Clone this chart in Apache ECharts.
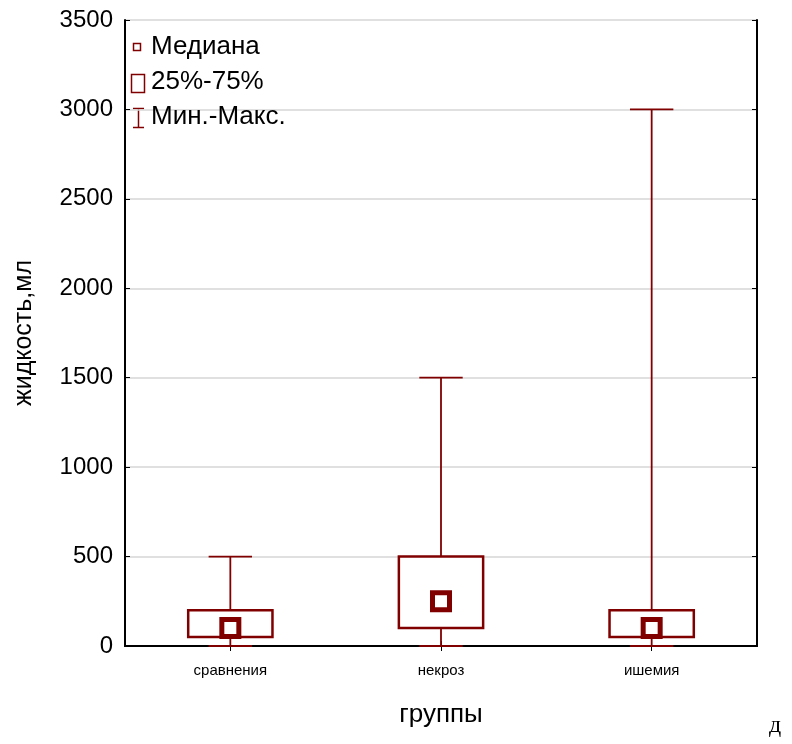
<!DOCTYPE html>
<html>
<head>
<meta charset="utf-8">
<script src="https://cdn.jsdelivr.net/npm/echarts@6/dist/echarts.min.js"></script>
<style>
  html, body { margin: 0; padding: 0; background: #fff; }
  #chart { width: 792px; height: 744px; }
</style>
</head>
<body>
<div id="chart"></div>
<script>
// Groups and their summary statistics (ml)
const categories = ['сравнения', 'некроз', 'ишемия'];
const minValues = [0, 0, 0];
const q1Values = [50, 100, 50];
const medianValues = [100, 250, 100];
const q3Values = [200, 500, 200];
const maxValues = [500, 1500, 3000];

const DARK_RED = '#800000';
const FONT = 'Liberation Sans, Arial, sans-serif';

const chart = echarts.init(document.getElementById('chart'), null, { renderer: 'canvas' });

const whiskerData = categories.map((c, i) => [i, minValues[i], maxValues[i]]);
const boxData = categories.map((c, i) => [i, q1Values[i], q3Values[i]]);
const medianData = categories.map((c, i) => [i, medianValues[i]]);

function renderWhisker(params, api) {
  const i = api.value(0);
  const lo = api.coord([i, api.value(1)]);
  const hi = api.coord([i, api.value(2)]);
  const band = api.size([1, 0])[0];
  const half = band * 0.103;
  const style = { stroke: DARK_RED, lineWidth: 1.8 };
  return {
    type: 'group',
    children: [
      { type: 'line', shape: { x1: lo[0], y1: lo[1], x2: hi[0], y2: hi[1] }, style },
      { type: 'line', shape: { x1: hi[0] - half, y1: hi[1], x2: hi[0] + half, y2: hi[1] }, style },
      { type: 'line', shape: { x1: lo[0] - half, y1: lo[1], x2: lo[0] + half, y2: lo[1] }, style }
    ]
  };
}

function renderBox(params, api) {
  const i = api.value(0);
  const lo = api.coord([i, api.value(1)]);
  const hi = api.coord([i, api.value(2)]);
  const band = api.size([1, 0])[0];
  const half = band * 0.2;
  return {
    type: 'rect',
    shape: { x: lo[0] - half, y: hi[1], width: half * 2, height: lo[1] - hi[1] },
    style: { fill: '#ffffff', stroke: DARK_RED, lineWidth: 2.5 }
  };
}

const legendTextX = 151;

const option = {
  animation: false,
  backgroundColor: '#ffffff',
  grid: { left: 125, right: 35, top: 20, bottom: 98 },
  xAxis: [
    {
      type: 'category',
      data: categories,
      position: 'bottom',
      axisLine: { show: true, lineStyle: { color: '#000', width: 2 } },
      axisTick: { show: true, inside: true, length: 5, alignWithLabel: true, lineStyle: { color: '#000' } },
      axisLabel: { color: '#000', fontSize: 15, fontFamily: FONT, margin: 17 },
      name: 'группы',
      nameLocation: 'middle',
      nameGap: 56,
      nameTextStyle: { color: '#000', fontSize: 26, fontFamily: FONT },
      splitLine: { show: false }
    },
    {
      type: 'category',
      data: categories,
      position: 'top',
      axisLine: { show: true, lineStyle: { color: '#000', width: 2 } },
      axisTick: { show: true, inside: true, length: 5, alignWithLabel: true, lineStyle: { color: '#000' } },
      axisLabel: { show: false },
      splitLine: { show: false }
    }
  ],
  yAxis: [
    {
      type: 'value',
      min: 0,
      max: 3500,
      interval: 500,
      position: 'left',
      axisLine: { show: true, lineStyle: { color: '#000', width: 2 } },
      axisTick: { show: true, inside: true, length: 5, lineStyle: { color: '#000' } },
      axisLabel: { color: '#000', fontSize: 24, fontFamily: FONT, margin: 12, formatter: v => String(v) },
      splitLine: { show: true, lineStyle: { color: '#d6d6d6', width: 1.5 } },
      name: 'жидкость,мл',
      nameLocation: 'middle',
      nameRotate: 90,
      nameGap: 88,
      nameTextStyle: { color: '#000', fontSize: 25, fontFamily: FONT }
    },
    {
      type: 'value',
      min: 0,
      max: 3500,
      interval: 500,
      position: 'right',
      axisLine: { show: true, lineStyle: { color: '#000', width: 2 } },
      axisTick: { show: true, inside: true, length: 5, lineStyle: { color: '#000' } },
      axisLabel: { show: false },
      splitLine: { show: false }
    }
  ],
  series: [
    {
      name: 'Мин.-Макс.',
      type: 'custom',
      renderItem: renderWhisker,
      data: whiskerData,
      encode: { x: 0, y: [1, 2] },
      z: 2
    },
    {
      name: '25%-75%',
      type: 'custom',
      renderItem: renderBox,
      data: boxData,
      encode: { x: 0, y: [1, 2] },
      z: 3
    },
    {
      name: 'Медиана',
      type: 'scatter',
      data: medianData,
      symbol: 'rect',
      symbolSize: 17,
      itemStyle: { color: '#ffffff', borderColor: DARK_RED, borderWidth: 5, opacity: 1 },
      z: 4
    }
  ],
  graphic: [
    // legend: median marker
    { type: 'rect', shape: { x: 133.5, y: 43.5, width: 7, height: 7 },
      style: { fill: '#fff', stroke: DARK_RED, lineWidth: 1.5 }, z: 10 },
    { type: 'text', x: legendTextX, y: 47,
      style: { text: 'Медиана', fill: '#000', fontSize: 26, fontFamily: FONT, verticalAlign: 'middle' }, z: 10 },
    // legend: quartile box marker
    { type: 'rect', shape: { x: 131.5, y: 74.5, width: 13, height: 18 },
      style: { fill: '#fff', stroke: DARK_RED, lineWidth: 1.5 }, z: 10 },
    { type: 'text', x: legendTextX, y: 82,
      style: { text: '25%-75%', fill: '#000', fontSize: 26, fontFamily: FONT, verticalAlign: 'middle' }, z: 10 },
    // legend: min-max whisker marker
    { type: 'group', z: 10, children: [
      { type: 'line', shape: { x1: 138.5, y1: 108, x2: 138.5, y2: 128 }, style: { stroke: DARK_RED, lineWidth: 1.5 } },
      { type: 'line', shape: { x1: 133, y1: 108.5, x2: 144, y2: 108.5 }, style: { stroke: DARK_RED, lineWidth: 1.5 } },
      { type: 'line', shape: { x1: 133, y1: 127.5, x2: 144, y2: 127.5 }, style: { stroke: DARK_RED, lineWidth: 1.5 } }
    ] },
    { type: 'text', x: legendTextX, y: 117,
      style: { text: 'Мин.-Макс.', fill: '#000', fontSize: 26, fontFamily: FONT, verticalAlign: 'middle' }, z: 10 },
    // panel letter
    { type: 'text', x: 769, y: 726,
      style: { text: 'д', fill: '#000', fontSize: 24, fontFamily: 'Liberation Serif, DejaVu Serif, serif', verticalAlign: 'middle' } }
  ]
};

chart.setOption(option);
</script>
</body>
</html>
